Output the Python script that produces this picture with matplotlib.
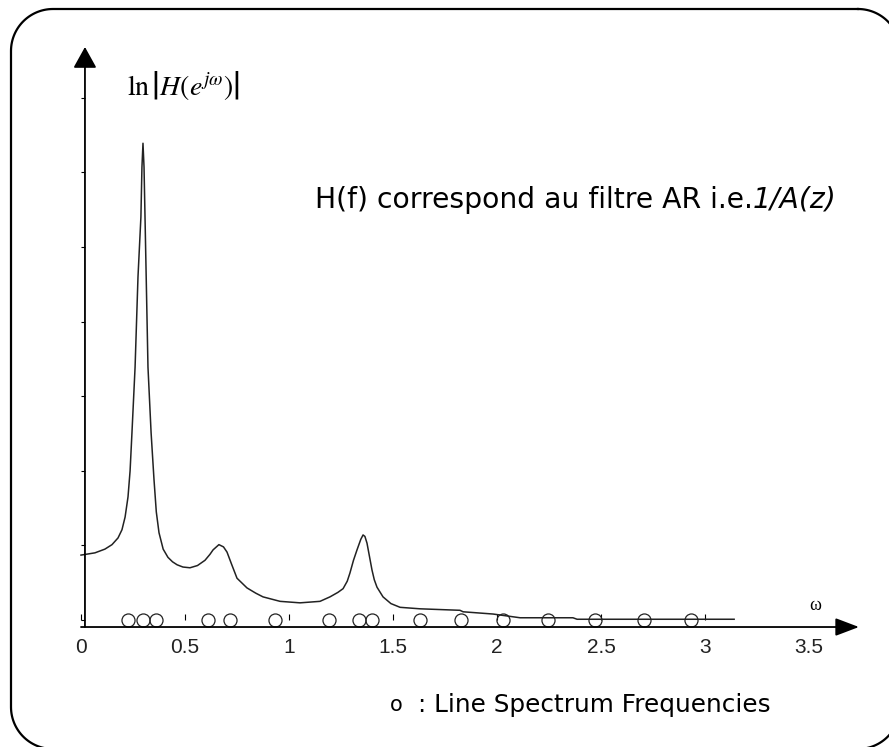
import matplotlib
matplotlib.use('Agg')
import matplotlib.pyplot as plt
import numpy as np

plt.rcParams['mathtext.fontset'] = 'stix'

# spectrum ln|H(e^jw)|
omega = [0.0, 0.067, 0.115, 0.149, 0.178, 0.197, 0.212, 0.226, 0.236, 0.245, 0.260,
         0.274, 0.288, 0.293, 0.298, 0.303, 0.3125, 0.322, 0.337, 0.351, 0.362,
         0.375, 0.395, 0.418, 0.440, 0.462, 0.490, 0.524, 0.560, 0.596, 0.620,
         0.635, 0.663, 0.685, 0.702, 0.725, 0.750, 0.798, 0.840, 0.875, 0.957,
         1.053, 1.149, 1.197, 1.235, 1.260, 1.280, 1.293, 1.310, 1.327, 1.345,
         1.356, 1.365, 1.375, 1.387, 1.399, 1.410, 1.423, 1.452, 1.490, 1.534,
         1.630, 1.822, 1.837, 1.981, 2.111, 2.365, 2.385, 3.14]
lnH = [0.87, 0.90, 0.95, 1.01, 1.10, 1.21, 1.38, 1.65, 2.00, 2.51, 3.39,
       4.60, 5.40, 6.07, 6.39, 6.07, 4.73, 3.39, 2.51, 1.88, 1.45,
       1.17, 0.95, 0.84, 0.78, 0.74, 0.71, 0.70, 0.73, 0.80, 0.88,
       0.94, 1.01, 0.98, 0.91, 0.74, 0.56, 0.43, 0.36, 0.31, 0.25,
       0.23, 0.25, 0.31, 0.37, 0.42, 0.52, 0.63, 0.80, 0.94, 1.08,
       1.14, 1.12, 1.03, 0.85, 0.67, 0.54, 0.44, 0.31, 0.22, 0.17,
       0.15, 0.13, 0.11, 0.08, 0.03, 0.03, 0.01, 0.01]

# line spectrum frequencies
lsf = [0.226, 0.298, 0.361, 0.611, 0.716, 0.933, 1.192, 1.337, 1.399, 1.630,
       1.827, 2.029, 2.245, 2.471, 2.707, 2.933]

xticks = [0, 0.5, 1, 1.5, 2, 2.5, 3, 3.5]
xticklabels = ['0', '0.5', '1', '1.5', '2', '2.5', '3', '3.5']
yticks = [0, 1, 2, 3, 4, 5, 6, 7]

fig = plt.figure(figsize=(8.89, 7.47), dpi=100)

# overlay in pixel units for the rounded slide frame (runs off the right/bottom edge)
bg = fig.add_axes([0, 0, 1, 1])
bg.set_xlim(0, 889)
bg.set_ylim(747, 0)
bg.axis('off')
L, T, R, B, r = 11, 9, 900, 749, 42
px, py = [], []
for cx, cy, a0 in [(R - r, T + r, -90), (R - r, B - r, 0), (L + r, B - r, 90), (L + r, T + r, 180)]:
    a = np.radians(np.linspace(a0, a0 + 90, 30))
    px.extend(cx + r * np.cos(a))
    py.extend(cy + r * np.sin(a))
px.append(px[0])
py.append(py[0])
bg.plot(px, py, color='black', lw=1.6, clip_on=False)

ax = fig.add_axes([81 / 889, 127 / 747, 728 / 889, 573 / 747])
ax.set_xlim(0, 3.5)
ax.set_ylim(0, 7.68)
ax.patch.set_alpha(0)
for s in ax.spines.values():
    s.set_visible(False)

ax.plot(omega, lnH, color='#222222', lw=1.1, clip_on=False)
ax.plot(lsf, [0] * len(lsf), 'o', ms=9.4, mfc='none', mec='#222222', mew=0.9, clip_on=False)

ax.set_xticks(xticks)
ax.set_xticklabels(xticklabels, family='Liberation Sans', fontsize=15, color='#222222')
ax.tick_params(axis='x', direction='in', length=4.3, width=0.8, pad=13)
ax.xaxis.get_major_ticks()[-1].tick1line.set_visible(False)
ax.set_yticks(yticks)
ax.set_yticklabels([])
ax.tick_params(axis='y', direction='in', length=3, width=0.8)

# axis arrows
ax.annotate('', xy=(3.74, -0.094), xytext=(0.0, -0.094), xycoords='data',
            arrowprops=dict(arrowstyle='-|>,head_length=1.45,head_width=0.55',
                            mutation_scale=10, color='black', lw=1.3,
                            shrinkA=0, shrinkB=0), annotation_clip=False)
ax.annotate('', xy=(0.019, 7.68), xytext=(0.019, -0.094), xycoords='data',
            arrowprops=dict(arrowstyle='-|>,head_length=1.3,head_width=0.72',
                            mutation_scale=10, color='black', lw=1.3,
                            shrinkA=0, shrinkB=0), annotation_clip=False)

ax.text(0.221, 7.16, r'$\ln\left|H(e^{j\omega})\right|$', fontsize=20, ha='left', va='center')
ax.text(3.529, 0.188, '\u03c9', family='Liberation Serif', fontsize=13, ha='center', va='center')

t1 = ax.text(1.125, 5.63, 'H(f) correspond au filtre AR i.e.', family='DejaVu Sans',
             fontsize=20.3, ha='left', va='center')
ax.annotate('1/A(z)', xy=(1, 0), xycoords=t1, ha='left', va='bottom',
            family='DejaVu Sans', fontsize=20.3, style='italic')

ax.text(1.517, -1.139, 'o', family='DejaVu Sans', fontsize=15, ha='center', va='center',
        clip_on=False)
ax.text(1.62, -1.139, ': Line Spectrum Frequencies', family='DejaVu Sans',
        fontsize=17.8, ha='left', va='center', clip_on=False)

fig.savefig('out.png', dpi=100)
